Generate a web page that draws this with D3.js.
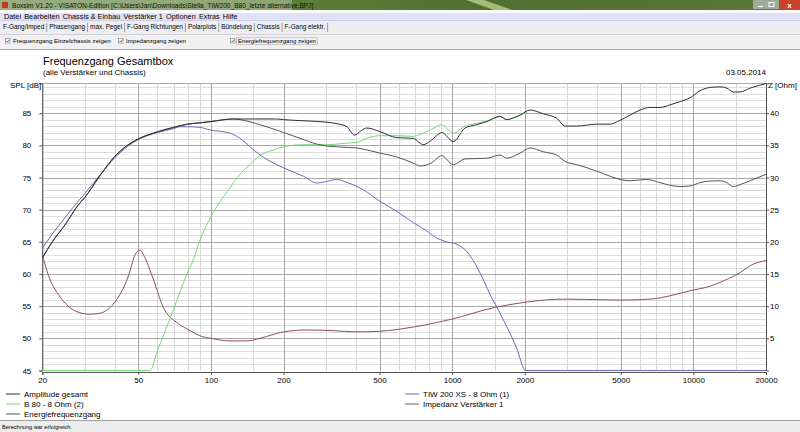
<!DOCTYPE html>
<html lang="de">
<head>
<meta charset="UTF-8">
<title>Boxsim - Frequenzgang Gesamtbox</title>
<script src="https://d3js.org/d3.v7.min.js"></script>
<style>
  body { margin: 0; background: #fff; }
  svg text { font-family: "Liberation Sans", Arial, sans-serif; fill: #000; }
  .curve { fill: none; stroke-width: 1; }
  .axis text { font-size: 8px; }
</style>
</head>
<body>
<script>
// ---- data ----
const splTicks = [45, 50, 55, 60, 65, 70, 75, 80, 85]
const ohmTicks = [5, 10, 15, 20, 25, 30, 35, 40]
const freqTicks = [20, 50, 100, 200, 500, 1000, 2000, 5000, 10000, 20000]
const freqMinor = [30, 40, 60, 70, 80, 90, 150, 300, 400, 600, 700, 800, 900, 1500,
                   3000, 4000, 6000, 7000, 8000, 9000, 15000]

// Amplitude gesamt (dB)
const totalF = [20, 22, 25, 28, 30, 35, 40, 45, 50, 60, 70, 80, 90, 100, 123, 150, 187, 200, 250,
                302, 340, 366, 394, 420, 442, 502, 589, 690, 736, 757, 820, 891, 905, 1011, 1131,
                1260, 1392, 1580, 1684, 1800, 1912, 2104, 2389, 2715, 2939, 3286, 3977, 4515, 4970,
                5467, 6015, 6616, 7279, 8006, 8810, 9690, 10660, 11730, 12900, 13760, 14660, 15620,
                17180, 20000]
const totalDb = [62.5, 65.0, 67.8, 70.6, 71.9, 75.5, 78.3, 80.0, 81.0, 82.1, 82.8, 83.3, 83.5, 83.7,
                 84.1, 84.1, 84.1, 84.0, 83.8, 83.6, 83.3, 82.9, 81.6, 82.3, 82.7, 82.15, 81.2, 81.1,
                 80.35, 80.1, 80.8, 81.9, 82.0, 80.6, 82.7, 83.2, 83.7, 84.5, 84.0, 84.3, 84.7, 85.5,
                 84.9, 84.2, 83.0, 83.0, 83.3, 83.3, 83.9, 84.7, 85.5, 85.9, 85.9, 86.3, 86.8, 87.4,
                 88.5, 89.0, 89.1, 88.9, 88.3, 88.3, 88.9, 89.6]

// B 80 - 8 Ohm (2) (dB, 45 = bottom of the plot)
const b80F = [20, 56, 57, 58.5, 63.5, 70, 77, 85, 90, 98, 108, 120, 131, 145, 158, 182, 200, 242,
              302, 366, 402, 442, 502, 589, 690, 736, 820, 905, 1011, 1131, 1260, 1392, 1580, 1684,
              1800, 1912, 2050]
const b80Db = [45, 45, 45.4, 46.8, 50.4, 54.5, 58.7, 62.5, 65.2, 68.3, 71.0, 73.4, 75.4, 77.0, 78.3,
               79.3, 79.8, 80.1, 80.1, 80.35, 80.45, 81.1, 81.5, 81.5, 81.4, 81.7, 82.5, 83.2, 81.9,
               83.0, 83.4, 83.8, 84.5, 84.0, 84.3, 84.7, 85.2]

// TIW 200 XS - 8 Ohm (1) (dB)
const tiwF = [20, 22, 25, 28, 30, 35, 40, 45, 50, 60, 70, 74.5, 80, 90, 99, 120, 132, 145, 160, 200,
              242, 275, 302, 332, 366, 428, 502, 589, 690, 785, 863, 950, 1050, 1150, 1250, 1350,
              1450, 1550, 1700, 1850, 1980, 2000, 20000]
const tiwDb = [64.0, 66.2, 68.9, 71.2, 72.5, 75.6, 78.1, 79.8, 80.9, 82.0, 82.6, 82.9, 82.9, 82.8,
               82.4, 81.9, 81.1, 79.8, 78.5, 76.5, 75.2, 74.15, 74.4, 74.7, 74.25, 73.1, 71.3, 69.75,
               68.0, 66.7, 65.6, 65.0, 64.6, 63.5, 61.5, 59.0, 56.5, 54.5, 51.5, 48.5, 45.3, 45, 45]

// Energiefrequenzgang (dB)
const energyF = [20, 22, 25, 28, 30, 35, 40, 45, 50, 60, 70, 80, 90, 100, 123, 132, 160, 195, 234,
                 275, 302, 366, 402, 442, 502, 589, 690, 736, 820, 905, 1011, 1131, 1392, 1580, 1684,
                 1912, 2104, 2389, 2715, 2939, 3286, 3977, 4515, 4970, 5467, 6406, 7279, 8006, 8810,
                 9690, 10660, 11300, 12900, 13760, 14660, 15620, 17180, 20000]
const energyDb = [62.5, 65.0, 67.8, 70.6, 71.9, 75.5, 78.3, 80.0, 81.0, 82.1, 82.8, 83.3, 83.5, 83.7,
                  84.1, 84.0, 83.2, 82.15, 81.1, 80.2, 79.9, 79.7, 79.6, 79.3, 78.8, 78.2, 77.25,
                  76.8, 77.25, 78.4, 77.0, 77.9, 78.0, 78.5, 78.0, 78.8, 79.6, 79.0, 78.5, 77.5, 77.0,
                  76.0, 75.2, 74.7, 74.5, 74.7, 74.2, 73.8, 73.6, 73.7, 74.2, 74.4, 74.5, 74.2, 73.6,
                  73.9, 74.5, 75.5]

// Impedanz Verstärker 1 (Ohm, right axis)
const impF = [20, 21.5, 23.3, 26, 28.5, 31.5, 34.7, 38.2, 42, 45.5, 48.5, 50.8, 53.3, 57.7, 63.5, 72,
              82, 90, 100, 120, 140, 170, 200, 250, 320, 400, 500, 700, 1000, 1500, 2000, 2500, 3000,
              4100, 5000, 6600, 7300, 8800, 9700, 11700, 12900, 14000, 15600, 17200, 20000]
const impOhm = [18.0, 14.2, 11.85, 9.8, 9.0, 8.75, 8.9, 9.8, 11.85, 14.7, 18.0, 18.7, 17.5, 14.2, 9.8,
                7.5, 6.2, 5.4, 5.0, 4.6, 4.6, 5.3, 6.0, 6.3, 6.2, 6.0, 6.1, 6.8, 8.0, 9.8, 10.6, 11.0,
                11.1, 11.0, 10.95, 11.1, 11.3, 12.0, 12.4, 13.1, 13.7, 14.3, 15.2, 16.3, 17.1]

const menuItems = ["Datei", "Bearbeiten", "Chassis & Einbau", "Verstärker 1", "Optionen", "Extras", "Hilfe"]
const tabItems = ["F-Gang/Imped", "Phasengang", "max. Pegel", "F-Gang Richtungen", "Polarplots",
                  "Bündelung", "Chassis", "F-Gang elektr."]
const checkItems = ["Frequenzgang Einzelchassis zeigen", "Impedanzgang zeigen", "Energiefrequenzgang zeigen"]

const colors = {
    total: "#2e2e2e",
    b80: "#74d874",
    tiw: "#6a6ab4",
    energy: "#555555",
    imp: "#8a5064"
}

const W = 800, H = 432
const svg = d3.select("body").append("svg")
    .attr("width", W)
    .attr("height", H)

// ---- window chrome ----
const defs = svg.append("defs")
const tg = defs.append("linearGradient").attr("id", "titleGrad").attr("x1", 0).attr("x2", 1)
tg.append("stop").attr("offset", "0").attr("stop-color", "#6f8c4c")
tg.append("stop").attr("offset", "0.45").attr("stop-color", "#587a36")
tg.append("stop").attr("offset", "0.6").attr("stop-color", "#4f7030")
tg.append("stop").attr("offset", "1").attr("stop-color", "#5a7838")

svg.append("rect").attr("width", W).attr("height", 10).attr("fill", "url(#titleGrad)")
svg.append("path").attr("d", "M466,0 L484,0 L512,10 L494,10 Z").attr("fill", "#b9cf86").attr("opacity", 0.8)
svg.append("rect").attr("x", 0).attr("y", 0).attr("width", 292).attr("height", 10)
    .attr("fill", "#e8eedd").attr("opacity", 0.35)
svg.append("rect").attr("x", 2).attr("y", 2).attr("width", 6).attr("height", 6).attr("fill", "#c23a22")
svg.append("text").attr("x", 12).attr("y", 7.5).style("font-size", "6.6px").style("fill", "#111")
    .text("Boxsim V1.20 - VISATON-Edition [C:\\Users\\Jan\\Downloads\\Stella_TIW200_B80_letzte alternative.BPJ]")
// window buttons
svg.append("rect").attr("x", 753).attr("y", 0).attr("width", 26).attr("height", 9).attr("fill", "#9fae98")
svg.append("rect").attr("x", 779).attr("y", 0).attr("width", 21).attr("height", 9).attr("fill", "#c7412c")
svg.append("line").attr("x1", 758).attr("x2", 763).attr("y1", 6.5).attr("y2", 6.5).attr("stroke", "#fff")
svg.append("rect").attr("x", 769).attr("y", 2.5).attr("width", 5).attr("height", 4).attr("fill", "none").attr("stroke", "#fff")
svg.append("text").attr("x", 789.5).attr("y", 7.5).attr("text-anchor", "middle")
    .style("font-size", "8px").style("fill", "#fff").style("font-weight", "bold").text("x")

// menu bar
svg.append("rect").attr("y", 10).attr("width", W).attr("height", 3).attr("fill", "#fafafd")
svg.append("rect").attr("y", 13).attr("width", W).attr("height", 7).attr("fill", "#dfe1f4")
svg.append("line").attr("x1", 0).attr("x2", W).attr("y1", 20.5).attr("y2", 20.5).attr("stroke", "#c9cbe8")
let mx = 4
menuItems.forEach(m => {
    const t = svg.append("text").attr("x", mx).attr("y", 18.5).style("font-size", "7.3px").text(m)
    mx += t.node().getComputedTextLength() + 3.2
})

// tab strip
svg.append("rect").attr("y", 21).attr("width", W).attr("height", 14).attr("fill", "#eeeef1")
svg.append("line").attr("x1", 0).attr("x2", W).attr("y1", 34.5).attr("y2", 34.5).attr("stroke", "#d2d2d6")
let tx = 3
tabItems.forEach((t, i) => {
    const el = svg.append("text").attr("x", tx).attr("y", 28.5).style("font-size", "6.4px").text(t)
    const w = el.node().getComputedTextLength()
    if (i === 0) {
        svg.insert("rect", "text").attr("x", tx - 2).attr("y", 22).attr("width", w + 4).attr("height", 11)
            .attr("fill", "#f8f8f8")
    }
    tx += w + 2
    svg.append("line").attr("x1", tx + 0.5).attr("x2", tx + 0.5).attr("y1", 23).attr("y2", 32)
        .attr("stroke", "#9a9aa4")
    tx += 3
})

// checkbox row
svg.append("rect").attr("y", 35).attr("width", W).attr("height", 14).attr("fill", "#f0f0f0")
svg.append("line").attr("x1", 0).attr("x2", W).attr("y1", 49.5).attr("y2", 49.5).attr("stroke", "#a9a9a9")
const checkX = [5, 118, 230]
checkItems.forEach((c, i) => {
    const cx = checkX[i]
    svg.append("rect").attr("x", cx + 0.5).attr("y", 38.5).attr("width", 4.5).attr("height", 4.5)
        .attr("fill", "#fff").attr("stroke", "#8a8a8a").attr("stroke-width", 0.7)
    svg.append("path").attr("d", `M${cx + 1.5},${40.8} l1,1.2 l2,-2.4`).attr("fill", "none")
        .attr("stroke", "#333").attr("stroke-width", 0.8)
    const t = svg.append("text").attr("x", cx + 8).attr("y", 43).style("font-size", "6.1px").text(c)
    if (i === 2) {
        const w = t.node().getComputedTextLength()
        svg.append("rect").attr("x", cx + 6.5).attr("y", 37.5).attr("width", w + 3).attr("height", 7)
            .attr("fill", "none").attr("stroke", "#555").attr("stroke-width", 0.5)
            .attr("stroke-dasharray", "1,1")
    }
})

// status bar
svg.append("rect").attr("y", 420).attr("width", W).attr("height", 12).attr("fill", "#ececec")
svg.append("line").attr("x1", 0).attr("x2", W).attr("y1", 420.5).attr("y2", 420.5).attr("stroke", "#a0a0a0")
svg.append("text").attr("x", 2).attr("y", 428.5).style("font-size", "5.6px").text("Berechnung war erfolgreich.")

// ---- chart ----
const x = d3.scaleLog().domain([20, 20000]).range([42.3, 766])
const y = d3.scaleLinear().domain([45, 89.65]).range([370.5, 83.3])
const z = d3.scaleLinear().domain([0, 44.65]).range([370.5, 83.3])
const [x0, x1] = x.range()
const [y0, y1] = y.range()

const grid = svg.append("g").attr("shape-rendering", "crispEdges")
d3.range(46, 90).filter(v => v % 5 !== 0).forEach(v => {
    grid.append("line").attr("x1", x0).attr("x2", x1).attr("y1", Math.round(y(v)) + 0.5)
        .attr("y2", Math.round(y(v)) + 0.5).attr("stroke", "#dddddd")
})
freqMinor.forEach(f => {
    grid.append("line").attr("x1", Math.round(x(f)) + 0.5).attr("x2", Math.round(x(f)) + 0.5)
        .attr("y1", y1).attr("y2", y0).attr("stroke", "#d8d8d8")
})
splTicks.filter(v => v > 45).forEach(v => {
    grid.append("line").attr("x1", x0).attr("x2", x1).attr("y1", Math.round(y(v)) + 0.5)
        .attr("y2", Math.round(y(v)) + 0.5).attr("stroke", "#a8a8a8")
})
freqTicks.forEach(f => {
    grid.append("line").attr("x1", Math.round(x(f)) + 0.5).attr("x2", Math.round(x(f)) + 0.5)
        .attr("y1", y1).attr("y2", y0).attr("stroke", "#a8a8a8")
})
grid.append("line").attr("x1", x0).attr("x2", x1).attr("y1", Math.round(y1) + 0.5).attr("y2", Math.round(y1) + 0.5)
    .attr("stroke", "#a8a8a8")

// axes (bottom axis sits one pixel under the 45 dB line so clipped curves stay visible)
const axL = svg.append("g").attr("class", "axis").attr("transform", `translate(${x0},0)`)
    .call(d3.axisLeft(y).tickValues(splTicks).tickSize(3).tickPadding(8))
const axR = svg.append("g").attr("class", "axis").attr("transform", `translate(${x1},0)`)
    .call(d3.axisRight(z).tickValues(ohmTicks).tickSize(3).tickPadding(1))
const axB = svg.append("g").attr("class", "axis").attr("transform", `translate(0,${y0 + 1.5})`)
    .call(d3.axisBottom(x).tickValues(freqTicks).tickFormat(d3.format("d")).tickSize(3).tickPadding(2))
;[axL, axR, axB].forEach(a => {
    a.select(".domain").attr("stroke", "#555")
    a.selectAll(".tick line").attr("stroke", "#555")
})

// curves
const line = d3.line().x(d => x(d[0])).y(d => d[2](d[1])).curve(d3.curveMonotoneX)
const series = [
    { key: "imp", f: impF, v: impOhm, scale: z },
    { key: "b80", f: b80F, v: b80Db, scale: y },
    { key: "tiw", f: tiwF, v: tiwDb, scale: y },
    { key: "energy", f: energyF, v: energyDb, scale: y },
    { key: "total", f: totalF, v: totalDb, scale: y }
]
const plot = svg.append("g")
series.forEach(s => {
    const pts = s.f.map((f, i) => [f, s.v[i], s.scale])
    plot.append("path")
        .attr("class", "curve")
        .attr("stroke", colors[s.key])
        .attr("d", line(pts))
})

// titles
svg.append("text").attr("x", 43).attr("y", 65).style("font-size", "11px").text("Frequenzgang Gesamtbox")
svg.append("text").attr("x", 43).attr("y", 74.5).style("font-size", "8px").text("(alle Verstärker und Chassis)")
svg.append("text").attr("x", 766).attr("y", 74.5).attr("text-anchor", "end").style("font-size", "8px").text("03.05.2014")
svg.append("text").attr("x", 10).attr("y", 88).style("font-size", "8px").text("SPL [dB]")
svg.append("text").attr("x", 768).attr("y", 88).style("font-size", "8px").text("Z [Ohm]")

// legend
const legend = [
    { key: "total", label: "Amplitude gesamt", col: 0, row: 0 },
    { key: "b80", label: "B 80 - 8 Ohm (2)", col: 0, row: 1 },
    { key: "energy", label: "Energiefrequenzgang", col: 0, row: 2 },
    { key: "tiw", label: "TIW 200 XS - 8 Ohm (1)", col: 1, row: 0 },
    { key: "imp", label: "Impedanz Verstärker 1", col: 1, row: 1 }
]
const lg = svg.append("g")
legend.forEach(d => {
    const lx = d.col === 0 ? 6 : 405
    const ly = 394 + d.row * 10
    lg.append("line").attr("x1", lx).attr("x2", lx + 14).attr("y1", ly).attr("y2", ly)
        .attr("stroke", colors[d.key])
    lg.append("text").attr("x", lx + 18).attr("y", ly + 3).style("font-size", "8px").text(d.label)
})
</script>
</body>
</html>
